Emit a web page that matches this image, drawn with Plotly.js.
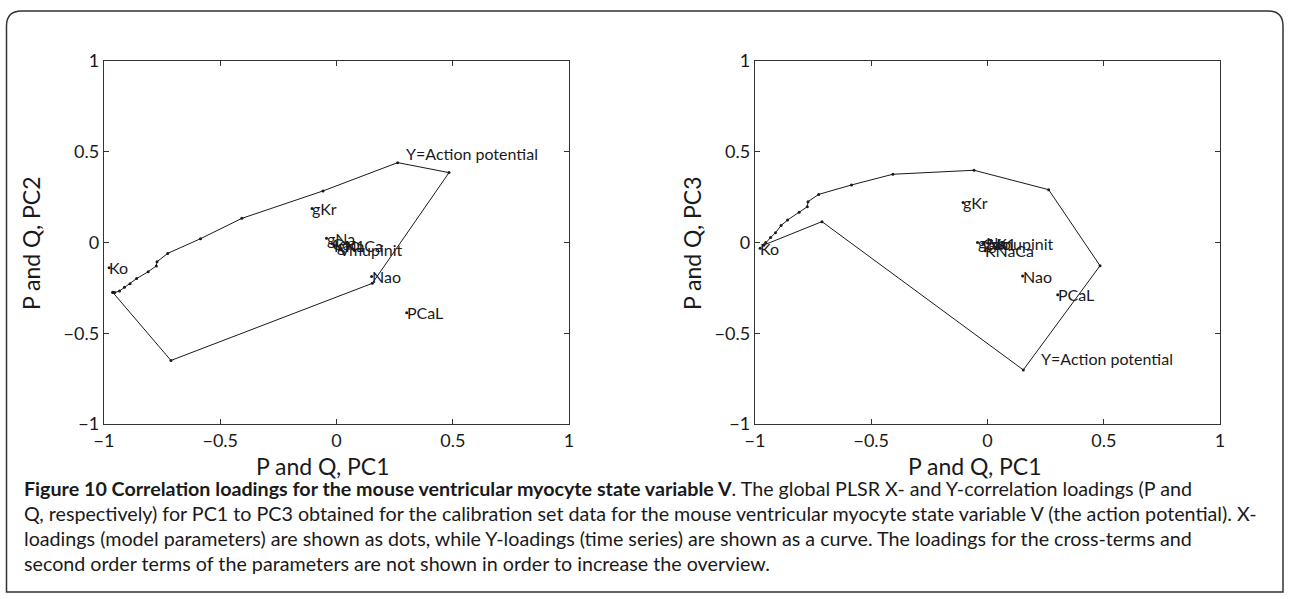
<!DOCTYPE html>
<html><head><meta charset="utf-8">
<script src="https://cdn.plot.ly/plotly-3.0.1.min.js"></script>
<style>html,body{margin:0;padding:0;background:#fff}#chart{width:1289px;height:599px}</style>
</head><body><div id="chart"></div><script>
// Y-loadings (time series curve)
const curvePC1 = [-0.962, -0.712, 0.154, 0.484, 0.263, -0.058, -0.407, -0.585, -0.726, -0.772, -0.775, -0.810, -0.860, -0.888, -0.912, -0.933, -0.954, -0.962];
const curvePC2 = [-0.275, -0.650, -0.225, 0.385, 0.440, 0.284, 0.133, 0.021, -0.060, -0.106, -0.129, -0.161, -0.199, -0.227, -0.247, -0.267, -0.276, -0.274];
const curvePC3 = [-0.014, 0.115, -0.702, -0.128, 0.291, 0.398, 0.376, 0.317, 0.265, 0.225, 0.197, 0.166, 0.124, 0.093, 0.054, 0.027, 0.000, -0.014];
// X-loadings (model parameters)
const paramNames = ['Ko', 'gKr', 'gNa', 'Cao', 'gK1', 'KNaCa', 'Vmupinit', 'Nao', 'PCaL'];
const paramPC1 = [-0.978, -0.105, -0.043, -0.020, 0.000, -0.010, 0.012, 0.151, 0.302];
const paramPC2 = [-0.139, 0.188, 0.024, -0.005, -0.015, -0.018, -0.040, -0.188, -0.387];
const paramPC3 = [-0.032, 0.221, 0.000, -0.005, -0.003, -0.045, -0.005, -0.185, -0.288];
const yLabel = 'Y=Action potential';
const yLabelPos2 = [0.29, 0.49];
const yLabelPos3 = [0.222, -0.64];
const tickVals = [-1, -0.5, 0, 0.5, 1];
const tickText = ['\u22121', '\u22120.5', '0', '0.5', '1'];

const FONT = 'Lato, "Noto Sans", sans-serif';
const ink = '#1a1a1a';

const traces = [
  {x: curvePC1, y: curvePC2, xaxis: 'x', yaxis: 'y', mode: 'lines+markers', line: {color: ink, width: 1}, marker: {color: ink, size: 3}, hoverinfo: 'skip'},
  {x: paramPC1, y: paramPC2, xaxis: 'x', yaxis: 'y', mode: 'markers', marker: {color: ink, size: 3}},
  {x: curvePC1, y: curvePC3, xaxis: 'x2', yaxis: 'y2', mode: 'lines+markers', line: {color: ink, width: 1}, marker: {color: ink, size: 3}, hoverinfo: 'skip'},
  {x: paramPC1, y: paramPC3, xaxis: 'x2', yaxis: 'y2', mode: 'markers', marker: {color: ink, size: 3}}
];

const W = 1289, H = 599;
const px = v => v / W, py = v => 1 - v / H;

function axis(domain, anchor) {
  return {domain: domain, anchor: anchor, range: [-1, 1], tickvals: tickVals, ticktext: tickText,
    ticks: 'inside', ticklen: 5, tickwidth: 1, tickcolor: '#333', showline: true, linecolor: '#333', linewidth: 1.3,
    mirror: 'ticks', zeroline: false, showgrid: false, fixedrange: true,
    tickfont: {family: FONT, size: 18, color: ink}};
}

const annotations = [];
paramNames.forEach((n, i) => {
  annotations.push({xref: 'x', yref: 'y', x: paramPC1[i], y: paramPC2[i], text: n, showarrow: false, xanchor: 'left', yanchor: 'middle', xshift: -2, font: {family: FONT, size: 16, color: ink}});
  annotations.push({xref: 'x2', yref: 'y2', x: paramPC1[i], y: paramPC3[i], text: n, showarrow: false, xanchor: 'left', yanchor: 'middle', xshift: -2, font: {family: FONT, size: 16, color: ink}});
});
annotations.push({xref: 'x', yref: 'y', x: yLabelPos2[0], y: yLabelPos2[1], text: yLabel, showarrow: false, xanchor: 'left', yanchor: 'middle', font: {family: FONT, size: 16, color: ink}});
annotations.push({xref: 'x2', yref: 'y2', x: yLabelPos3[0], y: yLabelPos3[1], text: yLabel, showarrow: false, xanchor: 'left', yanchor: 'middle', font: {family: FONT, size: 16, color: ink}});

// axis titles
const titleFont = {family: FONT, size: 23, color: ink};
annotations.push({xref: 'paper', yref: 'paper', x: px(323), y: py(466), text: 'P and Q, PC1', showarrow: false, xanchor: 'center', yanchor: 'middle', font: titleFont});
annotations.push({xref: 'paper', yref: 'paper', x: px(975), y: py(466), text: 'P and Q, PC1', showarrow: false, xanchor: 'center', yanchor: 'middle', font: titleFont});
annotations.push({xref: 'paper', yref: 'paper', x: px(31), y: py(243), text: 'P and Q, PC2', textangle: -90, showarrow: false, xanchor: 'center', yanchor: 'middle', font: titleFont});
annotations.push({xref: 'paper', yref: 'paper', x: px(692), y: py(243), text: 'P and Q, PC3', textangle: -90, showarrow: false, xanchor: 'center', yanchor: 'middle', font: titleFont});

// caption
const captionLines = [
  '<b>Figure 10 Correlation loadings for the mouse ventricular myocyte state variable V</b>. The global PLSR X- and Y-correlation loadings (P and',
  'Q, respectively) for PC1 to PC3 obtained for the calibration set data for the mouse ventricular myocyte state variable V (the action potential). X-',
  'loadings (model parameters) are shown as dots, while Y-loadings (time series) are shown as a curve. The loadings for the cross-terms and',
  'second order terms of the parameters are not shown in order to increase the overview.'
];
captionLines.forEach((t, i) => {
  annotations.push({xref: 'paper', yref: 'paper', x: px(22), y: py(488 + 25 * i), text: t, showarrow: false, xanchor: 'left', yanchor: 'middle', font: {family: FONT, size: 19.7, color: ink}});
});

const r = 15;
const L = 6.5, T = 11, R = 1283, B = 592;
const frame = `M ${px(L)},${py(T + r)} Q ${px(L)},${py(T)} ${px(L + r)},${py(T)} L ${px(R - r)},${py(T)} Q ${px(R)},${py(T)} ${px(R)},${py(T + r)} L ${px(R)},${py(B)} L ${px(L)},${py(B)} Z`;

const layout = {
  width: W, height: H, margin: {l: 0, r: 0, t: 0, b: 0}, showlegend: false,
  paper_bgcolor: '#fff', plot_bgcolor: '#fff',
  xaxis: axis([px(104), px(569)], 'y'),
  yaxis: axis([py(424), py(61)], 'x'),
  xaxis2: axis([px(755), px(1220)], 'y2'),
  yaxis2: axis([py(424), py(61)], 'x2'),
  annotations: annotations,
  shapes: [{type: 'path', xref: 'paper', yref: 'paper', path: frame, line: {color: '#333', width: 1.5}}]
};
Plotly.newPlot('chart', traces, layout, {displayModeBar: false, staticPlot: true});
</script></body></html>
